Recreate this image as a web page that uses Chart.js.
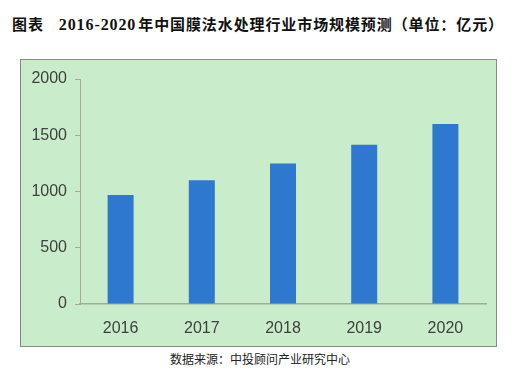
<!DOCTYPE html>
<html>
<head>
  <meta charset="utf-8">
  <title>2016-2020年中国膜法水处理行业市场规模预测</title>
  <script src="https://cdn.jsdelivr.net/npm/chart.js"></script>
  <style>
    body { margin: 0; width: 521px; height: 375px; background: #fff; position: relative; overflow: hidden; }
    #title { position: absolute; left: 12px; top: 13px; font: bold 15px "Noto Sans CJK SC"; color: #111; white-space: nowrap; letter-spacing: 0.9px; }
    #title .yr { font-family: "Liberation Serif", serif; font-size: 16px; letter-spacing: 0.9px; margin-left: 15px; margin-right: 2px; }
    #panel { position: absolute; left: 20px; top: 59px; width: 477px; height: 288px; }
    #source { position: absolute; left: 170px; top: 350px; font: 12px "Noto Sans CJK SC"; color: #222; white-space: nowrap; }
  </style>
</head>
<body>
  <div id="title">图表<span class="yr">2016-2020</span>年中国膜法水处理行业市场规模预测（单位：亿元）</div>
  <div id="panel"><canvas id="marketChart" width="477" height="288"></canvas></div>
  <div id="source">数据来源：中投顾问产业研究中心</div>

  <script>
    const years = ['2016', '2017', '2018', '2019', '2020'];
    const marketSize = [970, 1100, 1250, 1415, 1600];
    const yTicks = [0, 500, 1000, 1500, 2000];

    // green box behind the plot
    const panelBg = {
      id: 'panelBg',
      beforeDraw(chart) {
        const c = chart.ctx;
        c.save();
        c.fillStyle = '#c9ecca';
        c.fillRect(0, 0, chart.width, chart.height);
        c.strokeStyle = '#8a8a8a';
        c.lineWidth = 1;
        c.strokeRect(0.5, 0.5, chart.width - 1, chart.height - 1);
        c.restore();
      }
    };

    const ctx = document.getElementById('marketChart').getContext('2d');
    new Chart(ctx, {
      type: 'bar',
      data: {
        labels: years,
        datasets: [{
          data: marketSize,
          backgroundColor: '#2f78cf',
          borderWidth: 0,
          categoryPercentage: 1,
          barPercentage: 0.32
        }]
      },
      options: {
        responsive: false,
        animation: false,
        layout: { padding: { top: 20, right: 11, left: 0, bottom: 0 } },
        plugins: { legend: { display: false }, tooltip: { enabled: false } },
        scales: {
          x: {
            afterFit(s) { s.height = 43; },
            grid: { display: false, drawTicks: false },
            border: { display: true, color: '#a9a993', width: 1.5 },
            ticks: { color: '#404040', padding: 15, font: { family: 'Liberation Sans', size: 16 } }
          },
          y: {
            min: 0,
            max: 2000,
            afterFit(s) { s.width = 60; },
            afterBuildTicks(s) { s.ticks = yTicks.map(v => ({ value: v })); },
            grid: { drawOnChartArea: false, drawTicks: true, tickLength: 5, color: '#a9a993' },
            border: { display: true, color: '#a9a993', width: 1 },
            ticks: {
              color: '#404040', padding: 8, font: { family: 'Liberation Sans', size: 16 },
              callback: v => String(v)
            }
          }
        }
      },
      plugins: [panelBg]
    });
  </script>
</body>
</html>
